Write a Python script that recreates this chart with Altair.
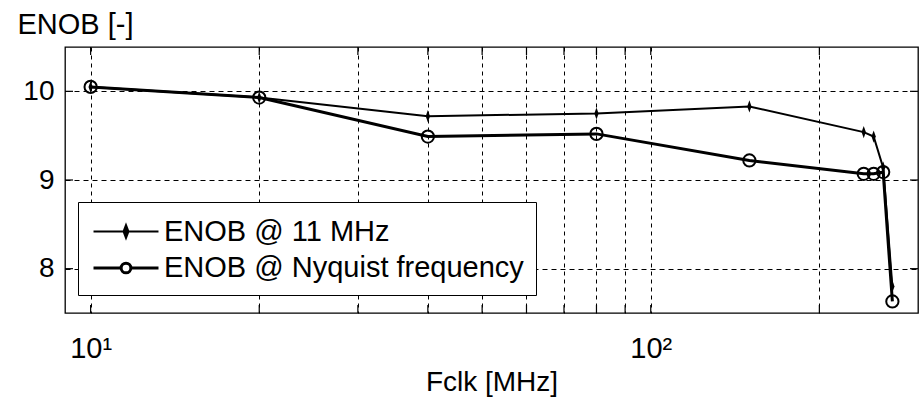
import altair as alt
import pandas as pd

fclk = [10, 20, 40, 80, 150, 240, 250, 260, 270]
enob_11mhz = [10.05, 9.93, 9.72, 9.75, 9.83, 9.54, 9.49, 9.14, 7.80]
enob_nyq = [10.05, 9.93, 9.49, 9.52, 9.22, 9.07, 9.07, 9.09, 7.63]
series_names = ["ENOB @ 11 MHz", "ENOB @ Nyquist frequency"]
x_grid_values = [10, 20, 30, 40, 50, 60, 70, 80, 90, 100, 200]
y_tick_values = [8, 9, 10]

rows = []
for i, f in enumerate(fclk):
    rows.append({"Fclk": f, "ENOB": enob_11mhz[i], "series": series_names[0], "order": i})
    rows.append({"Fclk": f, "ENOB": enob_nyq[i], "series": series_names[1], "order": i})
df = pd.DataFrame(rows)
xt = pd.DataFrame({"Fclk": x_grid_values})
yt = pd.DataFrame({"ENOB": y_tick_values})

FONT = "Liberation Sans"
FS = 29
W, H = 853, 266

x_enc = alt.X(
    "Fclk:Q",
    scale=alt.Scale(type="log", domain=[9, 300], nice=False),
    axis=alt.Axis(
        values=x_grid_values,
        labelExpr="datum.value == 10 ? '10¹' : (datum.value == 100 ? '10²' : '')",
        labelFont=FONT, labelFontSize=FS, labelColor="black",
        labelBaseline="alphabetic", labelPadding=44, ticks=False, tickSize=0,
        domain=False, grid=True, gridColor="#000000", gridDash=[4, 4], gridWidth=1,
        labelOverlap=False, labelFlush=False,
        title="Fclk [MHz]", titleFont=FONT, titleFontSize=FS - 1, titleFontWeight="normal",
        titleColor="black", titleBaseline="alphabetic", titleY=77,
    ),
)
y_enc = alt.Y(
    "ENOB:Q",
    scale=alt.Scale(domain=[7.5, 10.5], nice=False, zero=False),
    axis=alt.Axis(
        values=y_tick_values, format="d",
        labelFont=FONT, labelFontSize=FS - 1, labelColor="black", labelPadding=11,
        ticks=False, tickSize=0, domain=False,
        grid=True, gridColor="#000000", gridDash=[5, 4], gridWidth=1,
        title="ENOB [-]", titleFont=FONT, titleFontSize=FS, titleFontWeight="normal",
        titleColor="black", titleAngle=0, titleAlign="left", titleBaseline="alphabetic",
        titleX=-48, titleY=-14,
    ),
)

is1 = "datum.value === 'ENOB @ 11 MHz'"
sym_sig = (is1 + " ? 'M-2,0L2,0M0,-0.4L0.15,0L0,0.4L-0.15,0Z' : "
           "'M-2,0L-0.3,0M0.3,0L2,0M-0.3,0A0.3,0.3 0 1,0 0.3,0A0.3,0.3 0 1,0 -0.3,0Z'")

lines = alt.Chart(df).mark_line().encode(
    x=x_enc,
    y=y_enc,
    order="order:Q",
    color=alt.Color(
        "series:N",
        scale=alt.Scale(domain=series_names, range=["black", "black"]),
        legend=alt.Legend(
            orient="none", legendX=13, legendY=155, title=None,
            symbolSize=1056, symbolOffset=18,
            symbolType=alt.ExprRef(expr=sym_sig),
            symbolFillColor=alt.ExprRef(expr=is1 + " ? 'black' : 'white'"),
            symbolStrokeColor="black",
            symbolStrokeWidth=alt.ExprRef(expr=is1 + " ? 1.5 : 2.6"),
            labelFont=FONT, labelFontSize=FS, labelColor="black", labelOffset=20,
            labelLimit=0,
            strokeColor="black", fillColor="white", padding=12, rowPadding=3,
        ),
    ),
    strokeWidth=alt.StrokeWidth(
        "series:N", scale=alt.Scale(domain=series_names, range=[2.0, 3.0]), legend=None
    ),
)

pts1 = alt.Chart(df).transform_filter(
    alt.datum.series == series_names[0]
).mark_point(
    shape="M0,-1L0.35,0L0,1L-0.35,0Z", size=150, filled=True, color="black", opacity=1
).encode(x="Fclk:Q", y="ENOB:Q")

pts2 = alt.Chart(df).transform_filter(
    alt.datum.series == series_names[1]
).mark_point(
    shape="circle", size=150, filled=False, color="black", strokeWidth=2, opacity=1
).encode(x="Fclk:Q", y="ENOB:Q")

# inward-pointing ticks on all four sides
tick_bottom = alt.Chart(xt).mark_rule(color="black", strokeWidth=1.2).encode(
    x="Fclk:Q", y=alt.value(H), y2=alt.value(H - 8))
tick_top = alt.Chart(xt).mark_rule(color="black", strokeWidth=1.2).encode(
    x="Fclk:Q", y=alt.value(0), y2=alt.value(8))
tick_left = alt.Chart(yt).mark_rule(color="black", strokeWidth=1.2).encode(
    y="ENOB:Q", x=alt.value(0), x2=alt.value(8))
tick_right = alt.Chart(yt).mark_rule(color="black", strokeWidth=1.2).encode(
    y="ENOB:Q", x=alt.value(W), x2=alt.value(W - 8))

chart = alt.layer(
    tick_bottom, tick_top, tick_left, tick_right, lines, pts2, pts1
).properties(
    width=W, height=H,
    autosize=alt.AutoSizeParams(type="none"),
    padding={"left": 65, "top": 47, "right": 2, "bottom": 87},
    background="white",
).configure_view(stroke="black", strokeWidth=1.3)

chart.save("out.html", embed_options={"renderer": "svg", "actions": False})
